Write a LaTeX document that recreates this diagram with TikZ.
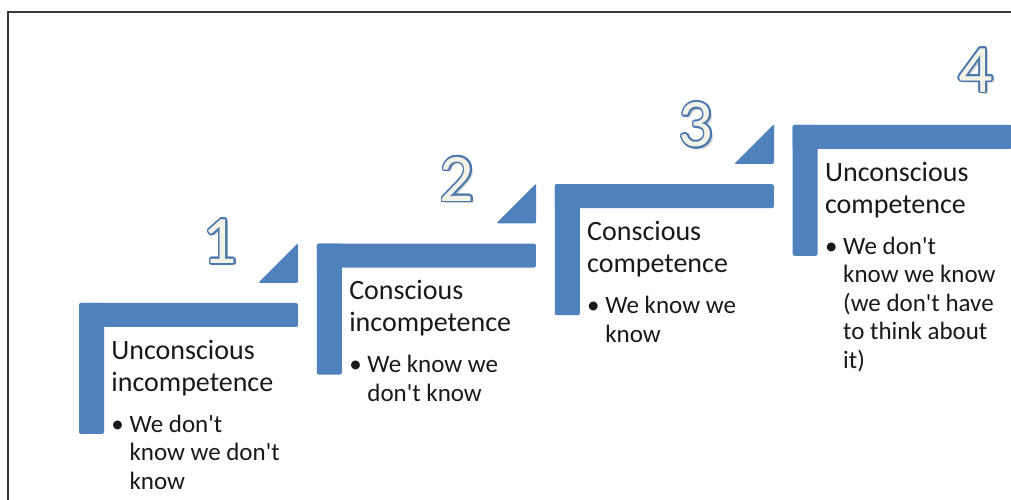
\documentclass[tikz,border=0pt]{standalone}
\usepackage{fontspec}
\setmainfont{Carlito}
\usepackage{contour}
\usetikzlibrary{positioning}
\definecolor{StepBlue}{HTML}{4F81BD}
\definecolor{NumEdge}{HTML}{4A76AE}
\definecolor{NumFill}{HTML}{F3F2E6}
\definecolor{FrameGray}{HTML}{3A3A3A}
\contourlength{1.7pt}
\tikzset{
  bar/.style={fill=StepBlue, rounded corners=2pt, inner sep=0pt, minimum width=219pt, minimum height=24pt},
  post/.style={fill=StepBlue, rounded corners=2pt, inner sep=0pt, minimum width=25pt, minimum height=131pt},
  corner/.style={fill=StepBlue, rounded corners=2pt},
  heading/.style={font=\fontsize{28}{32}\selectfont, align=left, inner sep=0pt, text=black!90},
  point/.style={font=\fontsize{25}{28.5}\selectfont, align=left, inner sep=0pt, text=black!90},
  number/.style={font=\fontsize{68}{68}\selectfont, inner sep=0pt},
  frame/.style={draw=FrameGray, line width=1.4pt}
}
\newcommand{\stepnum}[1]{\rlap{\kern2.5pt\raisebox{-2.5pt}{\textcolor{black!18}{#1}}}\contour{NumEdge}{\textcolor{NumFill}{#1}}}
\newcommand{\hang}{\phantom{\textbullet}\ }

\begin{document}
\begin{tikzpicture}[x=1pt, y=1pt]
\useasboundingbox (0,0) rectangle (1011,500);
\draw[frame] (8,-10) |- (1030,488);

% steps
\node[bar] (bar1) at (188.5,185) {};
\node[post, below right=0pt of bar1.north west] (post1) {};
\node[bar, above right=35pt and 18.5pt of bar1.north east] (bar2) {};
\node[post, below right=0pt of bar2.north west] (post2) {};
\node[bar, above right=35pt and 18.5pt of bar2.north east] (bar3) {};
\node[post, below right=0pt of bar3.north west] (post3) {};
\node[bar, above right=35pt and 18.5pt of bar3.north east] (bar4) {};
\node[post, below right=0pt of bar4.north west] (post4) {};

% corners
\fill[corner] ([shift={(-40,20)}]bar1.north east) -- ++(40,0) -- ++(0,40) -- cycle;
\fill[corner] ([shift={(-40,20)}]bar2.north east) -- ++(40,0) -- ++(0,40) -- cycle;
\fill[corner] ([shift={(-40,20)}]bar3.north east) -- ++(40,0) -- ++(0,40) -- cycle;

% numbers
\node[number] (num1) at ([shift={(-78,60)}]bar1.north east) {\stepnum{1}};
\node[number] (num2) at ([shift={(-79,63)}]bar2.north east) {\stepnum{2}};
\node[number] (num3) at ([shift={(-78,58)}]bar3.north east) {\stepnum{3}};
\node[number] (num4) at ([shift={(-36,53)}]bar4.north east) {\stepnum{4}};

% texts
\node[heading, below right=37pt and 7pt of post1.north east] (head1) {Unconscious\\incompetence};
\node[point, below right=112pt and 7pt of post1.north east] (point1) {\textbullet\ We don\textquotesingle t\\\hang know we don\textquotesingle t\\\hang know};
\node[heading, below right=37pt and 7pt of post2.north east] (head2) {Conscious\\incompetence};
\node[point, below right=112pt and 7pt of post2.north east] (point2) {\textbullet\ We know we\\\hang don\textquotesingle t know};
\node[heading, below right=37pt and 7pt of post3.north east] (head3) {Conscious\\competence};
\node[point, below right=112pt and 7pt of post3.north east] (point3) {\textbullet\ We know we\\\hang know};
\node[heading, below right=37pt and 7pt of post4.north east] (head4) {Unconscious\\competence};
\node[point, below right=112pt and 7pt of post4.north east] (point4) {\textbullet\ We don\textquotesingle t\\\hang know we know\\\hang (we don\textquotesingle t have\\\hang to think about\\\hang it)};
\end{tikzpicture}
\end{document}
